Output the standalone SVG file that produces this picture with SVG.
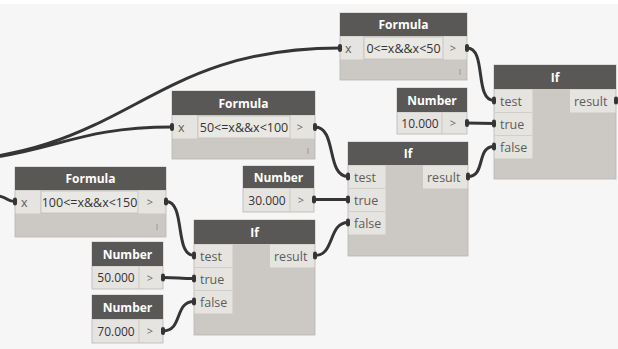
<svg xmlns="http://www.w3.org/2000/svg" width="618" height="349" viewBox="0 0 618 349">
  <defs>
    <style>
      .hdr { fill: #5a5856; }
      .body { fill: #ccc9c4; stroke: #b9b6b1; stroke-width: 0.8; }
      .cell { fill: #e6e4e0; }
      .field { fill: #eae8e4; stroke: #c4c1bc; stroke-width: 0.8; }
      .sep { stroke: #d2cfca; stroke-width: 1; }
      .title { font-family: "Open Sans", "Noto Sans", sans-serif; font-size: 12px; font-weight: bold; fill: #ffffff; text-anchor: middle; }
      .lbl { font-family: "Open Sans", "Noto Sans", sans-serif; font-size: 12.5px; fill: #5e5c5a; }
      .val { font-family: "Open Sans", "Noto Sans", sans-serif; font-size: 12px; fill: #333333; text-anchor: middle; }
      .expr { font-family: "Open Sans", "Noto Sans", sans-serif; font-size: 12.5px; fill: #333333; text-anchor: middle; }
      .arr { font-family: "Open Sans", "Noto Sans", sans-serif; font-size: 11px; fill: #6a6866; text-anchor: middle; }
      .tick { stroke: #9a9894; stroke-width: 1; }
      .wire { fill: none; stroke: #353535; stroke-width: 3; stroke-linecap: round; }
      .nub { fill: #353535; }
    </style>
  </defs>

  <!-- canvas -->
  <rect x="0" y="0" width="618" height="349" fill="#f6f6f6"/>
  <rect x="0" y="0" width="618" height="4" fill="#ffffff"/>

  <!-- wires -->
  <g id="connectors">
    <path class="wire" d="M -80 162 C 130 162, 140 48, 340 48"/>
    <path class="wire" d="M -80 162 C 50 162, 60 127, 172 127"/>
    <path class="wire" d="M -2 196 C 8 197, 6 201.5, 15 201.5"/>
    <path class="wire" d="M 467 48 C 487 48, 474 100.5, 494 100.5"/>
    <path class="wire" d="M 467 123 L 494 123.5"/>
    <path class="wire" d="M 468 176.5 C 486 176.5, 476 146.5, 494 146.5"/>
    <path class="wire" d="M 315 127 C 337 127, 326 176.5, 348 176.5"/>
    <path class="wire" d="M 314 199.5 L 348 199.5"/>
    <path class="wire" d="M 315 255.5 C 335 255.5, 328 222.5, 348 222.5"/>
    <path class="wire" d="M 166 201.5 C 186 201.5, 174 255.5, 194 255.5"/>
    <path class="wire" d="M 163 277.5 C 178 277.5, 179 278.5, 194 278.5"/>
    <path class="wire" d="M 163 331 C 183 331, 174 301.5, 194 301.5"/>
  </g>

  <!-- Formula: 0<=x&&x<50 -->
  <g id="formula1" transform="translate(340,13)">
    <rect class="body" x="0" y="0" width="127" height="67"/>
    <rect class="hdr" x="0" y="0" width="127" height="23"/>
    <rect class="cell" x="0.5" y="23.5" width="23" height="23"/>
    <rect class="field" x="24" y="24" width="79" height="22"/>
    <rect class="cell" x="103.5" y="23.5" width="23" height="23"/>
    <text class="title" x="63.5" y="16">Formula</text>
    <text class="lbl" x="5" y="39.5">x</text>
    <text class="expr" x="63.5" y="39.5">0&lt;=x&amp;&amp;x&lt;50</text>
    <text class="arr" x="113" y="39">&gt;</text>
    <line class="tick" x1="120" y1="56" x2="120" y2="62"/>
    <rect class="nub" x="-2" y="31" width="4" height="8" rx="2"/>
    <rect class="nub" x="125" y="31" width="4" height="8" rx="2"/>
  </g>

  <!-- Formula: 50<=x&&x<100 -->
  <g id="formula2" transform="translate(172,91)">
    <rect class="body" x="0" y="0" width="143" height="68"/>
    <rect class="hdr" x="0" y="0" width="143" height="24"/>
    <rect class="cell" x="0.5" y="24.5" width="25" height="23"/>
    <rect class="field" x="26" y="25" width="92" height="22"/>
    <rect class="cell" x="118.5" y="24.5" width="24" height="23"/>
    <text class="title" x="71.5" y="17">Formula</text>
    <text class="lbl" x="6" y="40.5">x</text>
    <text class="expr" x="72" y="40.5">50&lt;=x&amp;&amp;x&lt;100</text>
    <text class="arr" x="128" y="40">&gt;</text>
    <line class="tick" x1="136" y1="57" x2="136" y2="63"/>
    <rect class="nub" x="-2" y="32" width="4" height="8" rx="2"/>
    <rect class="nub" x="141" y="32" width="4" height="8" rx="2"/>
  </g>

  <!-- Formula: 100<=x&&x<150 -->
  <g id="formula3" transform="translate(15,167)">
    <rect class="body" x="0" y="0" width="151" height="70"/>
    <rect class="hdr" x="0" y="0" width="151" height="23"/>
    <rect class="cell" x="0.5" y="23.5" width="25" height="23"/>
    <rect class="field" x="26" y="24" width="97" height="22"/>
    <rect class="cell" x="123.5" y="23.5" width="27" height="23"/>
    <text class="title" x="75.5" y="16">Formula</text>
    <text class="lbl" x="6" y="39.5">x</text>
    <text class="expr" x="74.5" y="39.5">100&lt;=x&amp;&amp;x&lt;150</text>
    <text class="arr" x="135" y="39">&gt;</text>
    <line class="tick" x1="142" y1="57" x2="142" y2="63"/>
    <rect class="nub" x="-2" y="30.5" width="4" height="8" rx="2"/>
    <rect class="nub" x="149" y="30.5" width="4" height="8" rx="2"/>
  </g>

  <!-- Number 10.000 -->
  <g id="number10" transform="translate(397,88)">
    <rect class="body" x="0" y="0" width="70" height="46"/>
    <rect class="hdr" x="0" y="0" width="70" height="24"/>
    <rect class="cell" x="0.5" y="24.5" width="44" height="21"/>
    <rect class="cell" x="45.5" y="24.5" width="24" height="21"/>
    <text class="title" x="35" y="17">Number</text>
    <text class="val" x="23" y="39.5">10.000</text>
    <text class="arr" x="56" y="39">&gt;</text>
    <rect class="nub" x="68" y="31" width="4" height="8" rx="2"/>
  </g>

  <!-- Number 30.000 -->
  <g id="number30" transform="translate(243,166)">
    <rect class="body" x="0" y="0" width="71" height="46"/>
    <rect class="hdr" x="0" y="0" width="71" height="22"/>
    <rect class="cell" x="0.5" y="22.5" width="46" height="23"/>
    <rect class="cell" x="47.5" y="22.5" width="23" height="23"/>
    <text class="title" x="35.5" y="16">Number</text>
    <text class="val" x="24" y="38.5">30.000</text>
    <text class="arr" x="58" y="38">&gt;</text>
    <rect class="nub" x="69" y="29.5" width="4" height="8" rx="2"/>
  </g>

  <!-- Number 50.000 -->
  <g id="number50" transform="translate(92,242)">
    <rect class="body" x="0" y="0" width="71" height="47"/>
    <rect class="hdr" x="0" y="0" width="71" height="24"/>
    <rect class="cell" x="0.5" y="24.5" width="46" height="22"/>
    <rect class="cell" x="47.5" y="24.5" width="23" height="22"/>
    <text class="title" x="35.5" y="17">Number</text>
    <text class="val" x="24" y="40">50.000</text>
    <text class="arr" x="58" y="39.5">&gt;</text>
    <rect class="nub" x="69" y="31.5" width="4" height="8" rx="2"/>
  </g>

  <!-- Number 70.000 -->
  <g id="number70" transform="translate(92,295)">
    <rect class="body" x="0" y="0" width="71" height="48"/>
    <rect class="hdr" x="0" y="0" width="71" height="24"/>
    <rect class="cell" x="0.5" y="24.5" width="46" height="23"/>
    <rect class="cell" x="47.5" y="24.5" width="23" height="23"/>
    <text class="title" x="35.5" y="17">Number</text>
    <text class="val" x="24" y="40.5">70.000</text>
    <text class="arr" x="58" y="40">&gt;</text>
    <rect class="nub" x="69" y="32" width="4" height="8" rx="2"/>
  </g>

  <!-- If (final) -->
  <g id="if1" transform="translate(494,65)">
    <rect class="body" x="0" y="0" width="122" height="114"/>
    <rect class="hdr" x="0" y="0" width="122" height="24"/>
    <rect class="cell" x="0.5" y="24.5" width="38" height="69"/>
    <line class="sep" x1="0.5" y1="47.5" x2="38.5" y2="47.5"/>
    <line class="sep" x1="0.5" y1="70.5" x2="38.5" y2="70.5"/>
    <rect class="cell" x="76" y="24.5" width="45.5" height="23"/>
    <text class="title" x="61" y="17">If</text>
    <text class="lbl" x="6" y="40.5">test</text>
    <text class="lbl" x="6" y="63.5">true</text>
    <text class="lbl" x="6" y="86.5">false</text>
    <text class="lbl" x="80" y="40.5">result</text>
    <rect class="nub" x="-2" y="31.5" width="4" height="8" rx="2"/>
    <rect class="nub" x="-2" y="54.5" width="4" height="8" rx="2"/>
    <rect class="nub" x="-2" y="77.5" width="4" height="8" rx="2"/>
    <rect class="nub" x="120" y="31.5" width="4" height="8" rx="2"/>
  </g>

  <!-- If (middle) -->
  <g id="if2" transform="translate(348,142)">
    <rect class="body" x="0" y="0" width="120" height="114"/>
    <rect class="hdr" x="0" y="0" width="120" height="23"/>
    <rect class="cell" x="0.5" y="23.5" width="37" height="69"/>
    <line class="sep" x1="0.5" y1="46.5" x2="37.5" y2="46.5"/>
    <line class="sep" x1="0.5" y1="69.5" x2="37.5" y2="69.5"/>
    <rect class="cell" x="75" y="23.5" width="44.5" height="23"/>
    <text class="title" x="60" y="16">If</text>
    <text class="lbl" x="6" y="39.5">test</text>
    <text class="lbl" x="6" y="62.5">true</text>
    <text class="lbl" x="6" y="85.5">false</text>
    <text class="lbl" x="79" y="39.5">result</text>
    <rect class="nub" x="-2" y="30.5" width="4" height="8" rx="2"/>
    <rect class="nub" x="-2" y="53.5" width="4" height="8" rx="2"/>
    <rect class="nub" x="-2" y="76.5" width="4" height="8" rx="2"/>
    <rect class="nub" x="118" y="30.5" width="4" height="8" rx="2"/>
  </g>

  <!-- If (first) -->
  <g id="if3" transform="translate(194,220)">
    <rect class="body" x="0" y="0" width="121" height="115"/>
    <rect class="hdr" x="0" y="0" width="121" height="24"/>
    <rect class="cell" x="0.5" y="24.5" width="38" height="69"/>
    <line class="sep" x1="0.5" y1="47.5" x2="38.5" y2="47.5"/>
    <line class="sep" x1="0.5" y1="70.5" x2="38.5" y2="70.5"/>
    <rect class="cell" x="76" y="24.5" width="44.5" height="23"/>
    <text class="title" x="60.5" y="17">If</text>
    <text class="lbl" x="6" y="40.5">test</text>
    <text class="lbl" x="6" y="63.5">true</text>
    <text class="lbl" x="6" y="86.5">false</text>
    <text class="lbl" x="80" y="40.5">result</text>
    <rect class="nub" x="-2" y="31.5" width="4" height="8" rx="2"/>
    <rect class="nub" x="-2" y="54.5" width="4" height="8" rx="2"/>
    <rect class="nub" x="-2" y="77.5" width="4" height="8" rx="2"/>
    <rect class="nub" x="119" y="31.5" width="4" height="8" rx="2"/>
  </g>
</svg>
